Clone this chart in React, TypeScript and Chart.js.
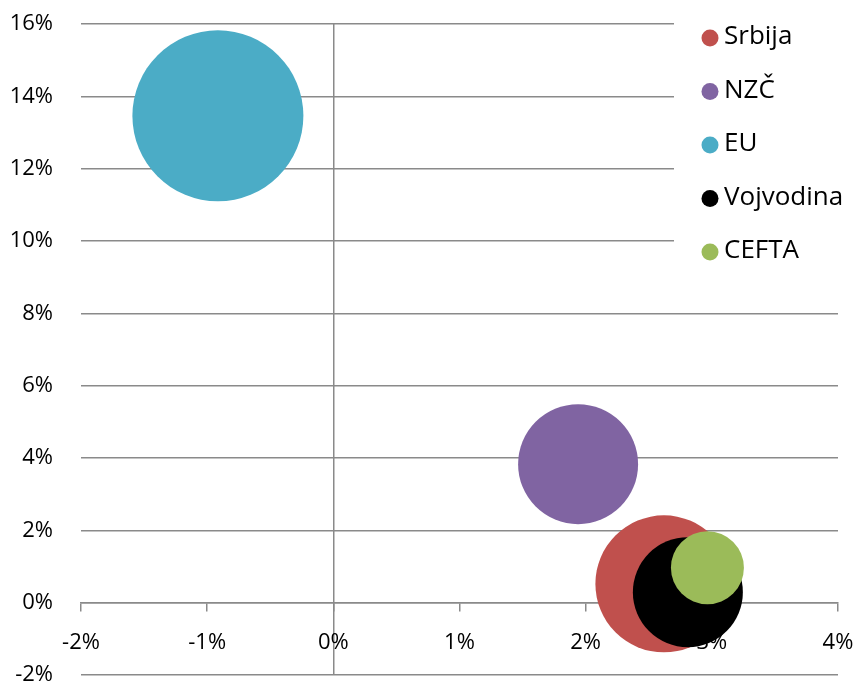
import React, { useEffect, useRef } from "react";
import { Chart, registerables } from "chart.js";

Chart.register(...registerables);

// ---- data ----
const seriesNames = ["Srbija", "NZČ", "EU", "Vojvodina", "CEFTA"];
const seriesColors = ["#C0504D", "#8064A2", "#4BACC6", "#000000", "#9BBB59"];
const xValues = [2.62, 1.94, -0.915, 2.81, 2.965]; // %
const yValues = [0.52, 3.83, 13.46, 0.29, 0.965]; // %
const bubbleSizes = [68.5, 60, 85.5, 55, 36.5];
const drawOrder = [5, 4, 3, 2, 1];
const xTickValues = [-2, -1, 0, 1, 2, 3, 4];
const yTickValues = [-2, 0, 2, 4, 6, 8, 10, 12, 14, 16];

const GRID = "#8a8a8a";
const FONT = "'Open Sans', 'DejaVu Sans', sans-serif";

const legendPlugin = {
  id: "customLegend",
  afterDraw(chart: any) {
    const ctx = chart.ctx;
    ctx.save();
    ctx.fillStyle = "#ffffff";
    ctx.fillRect(674, 0, 183, 272);
    ctx.font = `26px ${FONT}`;
    ctx.textBaseline = "middle";
    ctx.textAlign = "left";
    seriesNames.forEach((name, i) => {
      const cy = 37 + i * 53.5;
      ctx.beginPath();
      ctx.fillStyle = seriesColors[i];
      ctx.arc(710, cy + 1, 8.5, 0, Math.PI * 2);
      ctx.fill();
      ctx.fillStyle = "#000000";
      ctx.fillText(name, 724, cy);
    });
    ctx.restore();
  },
};

export default function App() {
  const ref = useRef<HTMLCanvasElement | null>(null);
  useEffect(() => {
    if (!ref.current) return;
    const chart = new Chart(ref.current, {
      type: "bubble",
      data: {
        datasets: seriesNames.map((name, i) => ({
          label: name,
          data: [{ x: xValues[i], y: yValues[i], r: bubbleSizes[i] }],
          backgroundColor: seriesColors[i],
          borderWidth: 0,
          hoverBorderWidth: 0,
          order: drawOrder[i],
          clip: false as any,
        })),
      },
      options: {
        animation: false,
        responsive: false,
        maintainAspectRatio: false,
        devicePixelRatio: 1,
        layout: { autoPadding: false, padding: { top: 24, right: 19, bottom: 11, left: 0 } },
        plugins: { legend: { display: false }, tooltip: { enabled: false } },
        scales: {
          x: {
            type: "linear",
            min: -2,
            max: 4,
            position: { y: 0 } as any,
            afterBuildTicks: (s: any) => {
              s.ticks = xTickValues.map((v) => ({ value: v }));
            },
            afterFit: (s: any) => {
              s.paddingLeft = 0;
              s.paddingRight = 0;
            },
            ticks: {
              callback: (v: any) => `${v}%`,
              color: "#000000",
              font: { family: FONT, size: 22 },
              padding: 19,
              maxRotation: 0,
              autoSkip: false,
            },
            grid: {
              color: (c: any) => (c.tick && c.tick.value === 0 ? GRID : "rgba(0,0,0,0)"),
              tickColor: GRID,
              lineWidth: 1.5,
              tickLength: 8,
            },
            border: { display: true, color: GRID, width: 1.5 },
          },
          y: {
            type: "linear",
            min: -2,
            max: 16,
            position: "left",
            afterBuildTicks: (s: any) => {
              s.ticks = yTickValues.map((v) => ({ value: v }));
            },
            afterFit: (s: any) => {
              s.width = 81;
              s.paddingTop = 0;
              s.paddingBottom = 0;
            },
            ticks: {
              callback: (v: any) => `${v}%`,
              color: "#000000",
              font: { family: FONT, size: 22 },
              padding: 28,
              autoSkip: false,
            },
            grid: { color: GRID, lineWidth: 1.5, drawTicks: false },
            border: { display: false },
          },
        },
      },
      plugins: [legendPlugin],
    });
    return () => chart.destroy();
  }, []);
  return (
    <div style={{ position: "fixed", left: 0, top: 0, width: 857, height: 686, background: "#fff" }}>
      <canvas ref={ref} width={857} height={686} />
    </div>
  );
}
